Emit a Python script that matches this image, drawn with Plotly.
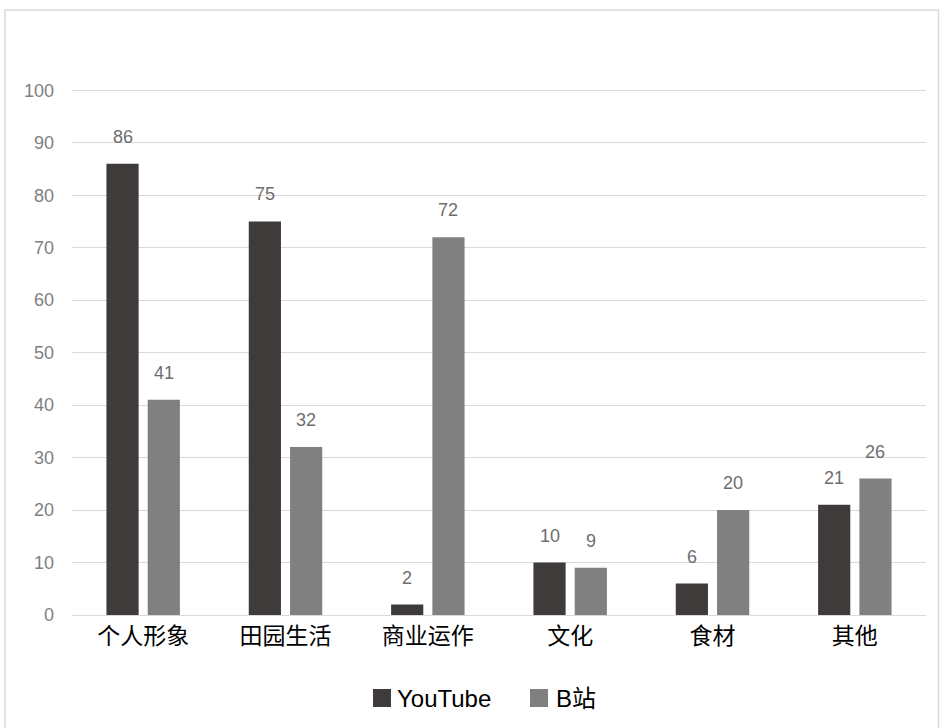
import plotly.graph_objects as go

categories = ["个人形象", "田园生活", "商业运作", "文化", "食材", "其他"]
youtube = [86, 75, 2, 10, 6, 21]
bilibili = [41, 32, 72, 9, 20, 26]
y_ticks = [0, 10, 20, 30, 40, 50, 60, 70, 80, 90, 100]
series_names = ["YouTube", "B站"]
series_colors = ["#403b3b", "#808080"]

W, H = 940, 728
ml, mr, mt, mb = 72, 14, 85, 113
pw = W - ml - mr
ph = H - mt - mb

def px_x(x):
    return (x - ml) / pw

def px_y(y):
    return (H - mb - y) / ph

fig = go.Figure()
for k, (name, vals, col) in enumerate(zip(series_names, [youtube, bilibili], series_colors)):
    fig.add_trace(go.Bar(
        x=categories, y=vals, name=name, offsetgroup=str(k),
        marker=dict(color=col, line=dict(width=0)),
        showlegend=False,
    ))

# data labels above bars
annotations = []
for k, vals in enumerate([youtube, bilibili]):
    for i, v in enumerate(vals):
        annotations.append(dict(
            x=i + (-0.145 if k == 0 else 0.145), y=v, xref="x", yref="y",
            text=str(v), showarrow=False, yanchor="bottom", yshift=15,
            font=dict(color="#6e6e6e", size=18, family="Liberation Sans, Arial"),
        ))

# custom legend
legend_items = [(373, 398), (530, 557)]
shapes = [dict(
    type="rect", xref="paper", yref="paper",
    x0=px_x(5), x1=px_x(938.5), y0=px_y(10), y1=px_y(735),
    line=dict(color="#d9d9d9", width=1.5), fillcolor="rgba(0,0,0,0)",
    layer="below",
)]
for (sx, tx), name, col in zip(legend_items, series_names, series_colors):
    shapes.append(dict(
        type="rect", xref="paper", yref="paper",
        x0=px_x(sx), x1=px_x(sx + 18), y0=px_y(707), y1=px_y(689),
        line=dict(width=0), fillcolor=col,
    ))
    annotations.append(dict(
        x=px_x(tx - 3), y=px_y(698), xref="paper", yref="paper",
        text=name, showarrow=False, xanchor="left", yanchor="middle",
        font=dict(size=24, color="#000000", family="Liberation Sans, Noto Sans CJK SC"),
    ))

fig.update_layout(
    width=W, height=H,
    margin=dict(l=ml, r=mr, t=mt, b=mb),
    paper_bgcolor="white", plot_bgcolor="white",
    barmode="group", bargap=0.42, bargroupgap=0.22,
    font=dict(family="Noto Sans CJK SC, Liberation Sans, Arial", color="#000000"),
    showlegend=False,
    xaxis=dict(
        showgrid=False, showline=True, linecolor="#d9d9d9", linewidth=1,
        ticks="", tickfont=dict(size=23, color="#000000", family="Noto Sans CJK SC"),
        fixedrange=True,
    ),
    yaxis=dict(
        range=[0, 101], tickvals=y_ticks, showgrid=True, gridcolor="#d9d9d9",
        gridwidth=1, zeroline=False, showline=False, ticks="",
        tickfont=dict(size=18, color="#7f7f7f", family="Liberation Sans, Arial"),
        ticklabelstandoff=17,
    ),
    shapes=shapes,
    annotations=annotations,
)

fig.write_html("out.html")
